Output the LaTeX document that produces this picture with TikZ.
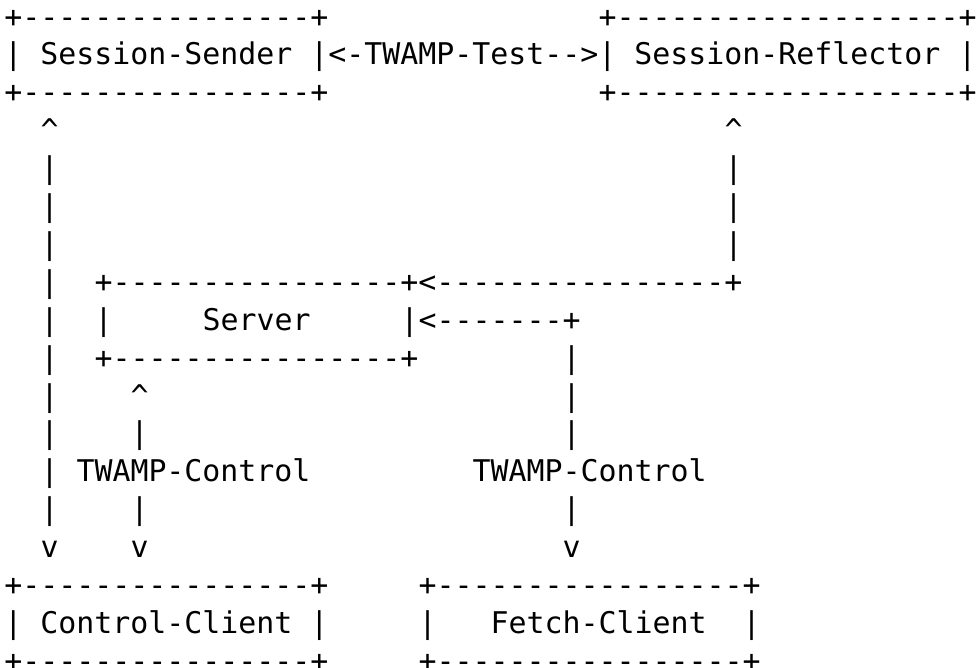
\documentclass[tikz,border=0pt]{standalone}
\usepackage{fontspec}
\setmonofont{DejaVu Sans Mono}
\tikzset{
  asctxt/.style={anchor=base west, inner sep=0pt, outer sep=0pt, text=black,
    font=\ttfamily\fontsize{29.9pt}{37.9pt}\selectfont}
}
% #1 name, #2 column, #3 row, #4 text
\newcommand\ascseg[4]{\node[asctxt] (#1) at ({4.5pt+18.0pt*#2},{-27pt-37.9pt*(#3-1)}) {#4};}
\newcommand\up{\textasciicircum}
\begin{document}
\begin{tikzpicture}
\fill[white] (0,0) rectangle (977pt,-667pt);
\useasboundingbox (0,0) rectangle (977pt,-667pt);
% row 1-3: Session boxes
\ascseg{r1a}{0}{1}{+----------------+}
\ascseg{r1b}{33}{1}{+-------------------+}
\ascseg{r2a}{0}{2}{| Session-Sender |<-TWAMP-Test-->| Session-Reflector |}
\ascseg{r3a}{0}{3}{+----------------+}
\ascseg{r3b}{33}{3}{+-------------------+}
% row 4
\ascseg{r4a}{2}{4}{\up}
\ascseg{r4b}{40}{4}{\up}
% rows 5-7
\foreach \r in {5,6,7}{
  \ascseg{r\r a}{2}{\r}{|}
  \ascseg{r\r b}{40}{\r}{|}
}
% row 8
\ascseg{r8a}{2}{8}{|}
\ascseg{r8b}{5}{8}{+----------------+<----------------+}
% row 9
\ascseg{r9a}{2}{9}{|}
\ascseg{r9b}{5}{9}{|}
\ascseg{r9c}{11}{9}{Server}
\ascseg{r9d}{22}{9}{|<-------+}
% row 10
\ascseg{r10a}{2}{10}{|}
\ascseg{r10b}{5}{10}{+----------------+}
\ascseg{r10c}{31}{10}{|}
% row 11
\ascseg{r11a}{2}{11}{|}
\ascseg{r11b}{7}{11}{\up}
\ascseg{r11c}{31}{11}{|}
% row 12
\ascseg{r12a}{2}{12}{|}
\ascseg{r12b}{7}{12}{|}
\ascseg{r12c}{31}{12}{|}
% row 13
\ascseg{r13a}{2}{13}{|}
\ascseg{r13b}{4}{13}{TWAMP-Control}
\ascseg{r13c}{26}{13}{TWAMP-Control}
% row 14
\ascseg{r14a}{2}{14}{|}
\ascseg{r14b}{7}{14}{|}
\ascseg{r14c}{31}{14}{|}
% row 15
\ascseg{r15a}{2}{15}{v}
\ascseg{r15b}{7}{15}{v}
\ascseg{r15c}{31}{15}{v}
% rows 16-18: client boxes
\ascseg{r16a}{0}{16}{+----------------+}
\ascseg{r16b}{23}{16}{+-----------------+}
\ascseg{r17a}{0}{17}{| Control-Client |}
\ascseg{r17b}{23}{17}{|}
\ascseg{r17c}{27}{17}{Fetch-Client}
\ascseg{r17d}{41}{17}{|}
\ascseg{r18a}{0}{18}{+----------------+}
\ascseg{r18b}{23}{18}{+-----------------+}
\end{tikzpicture}
\end{document}
